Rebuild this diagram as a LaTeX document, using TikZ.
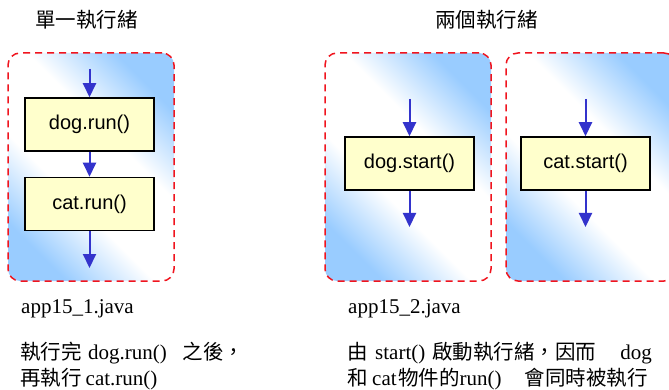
\documentclass[tikz,border=0pt]{standalone}
\usepackage{fontspec}
\setmainfont{Liberation Serif}
\newfontfamily\cjk{Noto Sans CJK TC}
\newfontfamily\arialfont{Liberation Sans}
\usetikzlibrary{arrows.meta}
\definecolor{sky}{RGB}{153,204,255}
\definecolor{dashred}{RGB}{240,20,30}
\definecolor{flowblue}{RGB}{51,51,204}
\definecolor{stepfill}{RGB}{255,255,204}
\newcommand\zhtext[1]{{\cjk\fontsize{20.5}{24}\selectfont #1}}
% light blue at both ends, a broad white band through the middle
\pgfdeclareverticalshading{panelshade}{100bp}{color(0bp)=(sky); color(25bp)=(sky);
  color(41bp)=(white); color(59bp)=(white); color(75bp)=(sky); color(100bp)=(sky)}

\begin{document}
\begin{tikzpicture}[x=1pt,y=-1pt,
  panel/.style={draw=dashred, line width=1.5pt, dash pattern=on 7pt off 5pt,
    rounded corners=12pt, shading=panelshade, shading angle=-45,
    inner sep=0, minimum height=228pt, minimum width=#1},
  stepbox/.style={draw=black, line width=1.5pt, fill=stepfill, inner sep=0,
    minimum width=129pt, minimum height=53pt,
    font=\arialfont\fontsize{20}{24}\selectfont},
  flow/.style={draw=flowblue, line width=2pt, -{Triangle[length=14pt,width=13pt]}},
  title/.style={anchor=west, inner sep=0, font=\cjk\fontsize{20.5}{24}\selectfont},
  note/.style={anchor=base west, inner sep=0, font=\fontsize{21}{25}\selectfont}]

\useasboundingbox (0,0) rectangle (669,390);

% thread panels
\node[panel=166pt] (single) at (91,167) {};
\node[panel=166pt] (threadA) at (408,167) {};
\node[panel=170pt] (threadB) at (591,167) {};

% headings
\node[title] (h1) at (35,20) {單一執行緒};
\node[title] (h2) at (435,20) {兩個執行緒};

% single thread: sequential calls
\node[stepbox] (dogrun) at (89.5,124.5) {dog.run()};
\node[stepbox] (catrun) at (89.5,204) {cat.run()};
\coordinate (s0) at (89.5,69);
\coordinate (s1) at (89.5,268);
\draw[flow] (s0) -- (dogrun.north);
\draw[flow] (dogrun.south) -- (catrun.north);
\draw[flow] (catrun.south) -- (s1);

% two threads: independent starts
\node[stepbox] (dogstart) at (409.5,163.5) {dog.start()};
\node[stepbox] (catstart) at (585.5,163.5) {cat.start()};
\coordinate (a0) at (409.5,99);
\coordinate (a1) at (409.5,227);
\coordinate (b0) at (585.5,99);
\coordinate (b1) at (585.5,227);
\draw[flow] (a0) -- (dogstart.north);
\draw[flow] (dogstart.south) -- (a1);
\draw[flow] (b0) -- (catstart.north);
\draw[flow] (catstart.south) -- (b1);

% captions
\node[note] (c1a) at (21,313) {app15\_1.java};
\node[note] (c1b) at (20,359) {\zhtext{執行完}\hspace{6.5pt}dog.run()\hspace{16pt}\zhtext{之後，}};
\node[note] (c1c) at (20,385) {\zhtext{再執行}\hspace{4pt}cat.run()};
\node[note] (c2a) at (348,313) {app15\_2.java};
\node[note] (c2b) at (347,359) {\zhtext{由}\hspace{7.5pt}start()\hspace{7pt}\zhtext{啟動執行緒，因而}\hspace{24pt}dog};
\node[note] (c2c) at (347,385) {\zhtext{和}\hspace{4.5pt}cat\hspace{1.5pt}\zhtext{物件的}run()\hspace{23pt}\zhtext{會同時被執行}};
\end{tikzpicture}
\end{document}
